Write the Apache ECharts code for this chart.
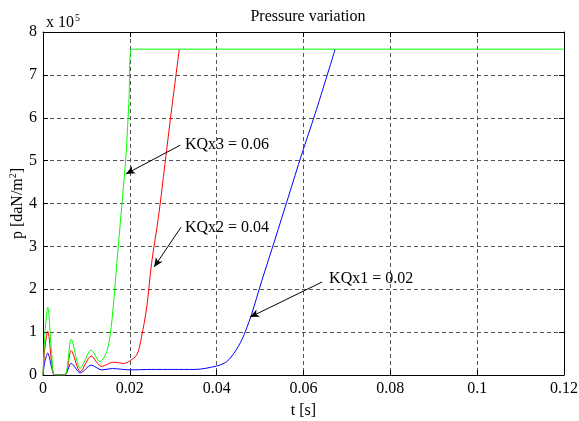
<!DOCTYPE html>
<html>
<head>
<meta charset="utf-8">
<script src="https://cdn.jsdelivr.net/npm/echarts@6/dist/echarts.min.js"></script>
<style>
    html, body { margin: 0; padding: 0; background: #fff; }
    #chart { width: 579px; height: 421px; }
</style>
</head>
<body>
<div id="chart"></div>
<script>
// time [s] and pressure [x 1e5 daN/m2]
var tBlue  = [0, 0.0004, 0.0011, 0.002, 0.0027, 0.005, 0.0065, 0.0086, 0.0111, 0.0135, 0.016, 0.02, 0.025, 0.03, 0.035, 0.04, 0.0423, 0.0442, 0.0458, 0.0469, 0.048, 0.0504, 0.0534, 0.0565, 0.0596, 0.0627, 0.0673];
var pBlue  = [0, 0.3, 0.51, 0.17, 0, 0, 0.27, 0.05, 0.23, 0.12, 0.15, 0.12, 0.13, 0.13, 0.13, 0.21, 0.31, 0.54, 0.82, 1.09, 1.4, 2.2, 3.15, 4.15, 5.15, 6.1, 7.6];
var tRed   = [0, 0.0004, 0.0011, 0.002, 0.0027, 0.005, 0.0065, 0.0086, 0.0111, 0.0135, 0.0162, 0.0185, 0.0197, 0.0216, 0.0227, 0.0239, 0.025, 0.0266, 0.0281, 0.0296, 0.0314];
var pRed   = [0, 0.6, 1.02, 0.3, 0, 0, 0.57, 0.08, 0.44, 0.2, 0.3, 0.27, 0.31, 0.47, 0.89, 1.59, 2.6, 3.69, 4.93, 6.18, 7.6];
var tGreen = [0, 0.0004, 0.0011, 0.002, 0.0027, 0.005, 0.0065, 0.0086, 0.0111, 0.0131, 0.0148, 0.0159, 0.017, 0.0181, 0.0191, 0.0198, 0.0204, 0.12];
var pGreen = [0, 0.9, 1.58, 0.5, 0, 0, 0.83, 0.16, 0.58, 0.31, 0.58, 1.3, 2.6, 3.9, 5.1, 6.4, 7.6, 7.6];

// annotations: [label, text anchor, arrow start, arrow tip]
var notes = [
    ['KQx3 = 0.06', [0.0327, 5.38], [0.0316, 5.36], [0.0191, 4.69]],
    ['KQx2 = 0.04', [0.0327, 3.43], [0.0318, 3.45], [0.0256, 2.52]],
    ['KQx1 = 0.02', [0.0659, 2.24], [0.0643, 2.17], [0.0477, 1.35]]
];

var font = 'Liberation Serif';

function pairs(t, p) {
    return t.map(function (x, i) { return [x, p[i]]; });
}

var myChart = echarts.init(document.getElementById('chart'));

var gridLine = { show: true, lineStyle: { color: '#555', type: [4, 3], width: 1 } };
var boxLine = { show: true, onZero: false, lineStyle: { color: '#000', width: 1 } };

var options = {
    animation: false,
    backgroundColor: '#fff',
    title: [
        { text: 'Pressure variation', left: 303, top: 4, textAlign: 'center',
          textStyle: { fontFamily: font, fontSize: 16, fontWeight: 'normal', color: '#000' } },
        { text: 'x 10{sup|5}', left: 41, top: 8,
          textStyle: { fontFamily: font, fontSize: 16, fontWeight: 'normal', color: '#000',
              rich: { sup: { fontFamily: font, fontSize: 10, verticalAlign: 'top', padding: [0, 0, 9, 1] } } } }
    ],
    grid: { left: 43, right: 15, top: 32, bottom: 46, outerBoundsMode: 'none', containLabel: false },
    xAxis: [{
        type: 'value', min: 0, max: 0.12, interval: 0.02,
        name: 't [s]', nameLocation: 'middle', nameGap: 28, nameMoveOverlap: false,
        nameTextStyle: { fontFamily: font, fontSize: 16, color: '#000' },
        axisLine: boxLine,
        axisTick: { inside: true, length: 5, lineStyle: { color: '#000' } },
        axisLabel: { fontFamily: font, fontSize: 16, color: '#000', margin: 6 },
        splitLine: gridLine
    }, {
        type: 'value', min: 0, max: 0.12, interval: 0.02, position: 'top',
        axisLine: boxLine,
        axisTick: { inside: true, length: 5, lineStyle: { color: '#000' } },
        axisLabel: { show: false },
        splitLine: { show: false }
    }],
    yAxis: [{
        type: 'value', min: 0, max: 8, interval: 1,
        name: 'p [daN/m{sup|2}]', nameLocation: 'middle', nameGap: 16, nameMoveOverlap: false,
        nameTextStyle: { fontFamily: font, fontSize: 16, color: '#000',
            rich: { sup: { fontFamily: font, fontSize: 10, verticalAlign: 'top', padding: [0, 0, 9, 0] } } },
        axisLine: boxLine,
        axisTick: { inside: true, length: 5, lineStyle: { color: '#000' } },
        axisLabel: { fontFamily: font, fontSize: 16, color: '#000', margin: 6 },
        splitLine: gridLine
    }, {
        type: 'value', min: 0, max: 8, interval: 1, position: 'right',
        axisLine: boxLine,
        axisTick: { inside: true, length: 5, lineStyle: { color: '#000' } },
        axisLabel: { show: false },
        splitLine: { show: false }
    }],
    series: [
        { name: 'KQx1', type: 'line', data: pairs(tBlue, pBlue), showSymbol: false, smooth: 0.3,
          lineStyle: { color: '#0000ff', width: 1 }, itemStyle: { color: '#0000ff' } },
        { name: 'KQx2', type: 'line', data: pairs(tRed, pRed), showSymbol: false, smooth: 0.3,
          lineStyle: { color: '#ff0000', width: 1 }, itemStyle: { color: '#ff0000' } },
        { name: 'KQx3', type: 'line', data: pairs(tGreen, pGreen), showSymbol: false, smooth: 0.3,
          lineStyle: { color: '#00ff00', width: 1 }, itemStyle: { color: '#00ff00' } },
        {
            name: 'notes', type: 'line', data: [], silent: true,
            markLine: {
                silent: true, animation: false,
                symbol: ['none', 'arrow'], symbolSize: [6, 9],
                lineStyle: { color: '#000', width: 1, type: 'solid' },
                label: { show: false },
                data: notes.map(function (n) {
                    return [{ coord: n[2] }, { coord: n[3] }];
                })
            },
            markPoint: {
                silent: true, animation: false, symbol: 'circle', symbolSize: 0,
                label: { show: true, position: 'right', distance: 0,
                         fontFamily: font, fontSize: 16, color: '#000' },
                data: notes.map(function (n) {
                    return { coord: n[1], label: { formatter: n[0] } };
                })
            }
        }
    ]
};

myChart.setOption(options);
</script>
</body>
</html>
